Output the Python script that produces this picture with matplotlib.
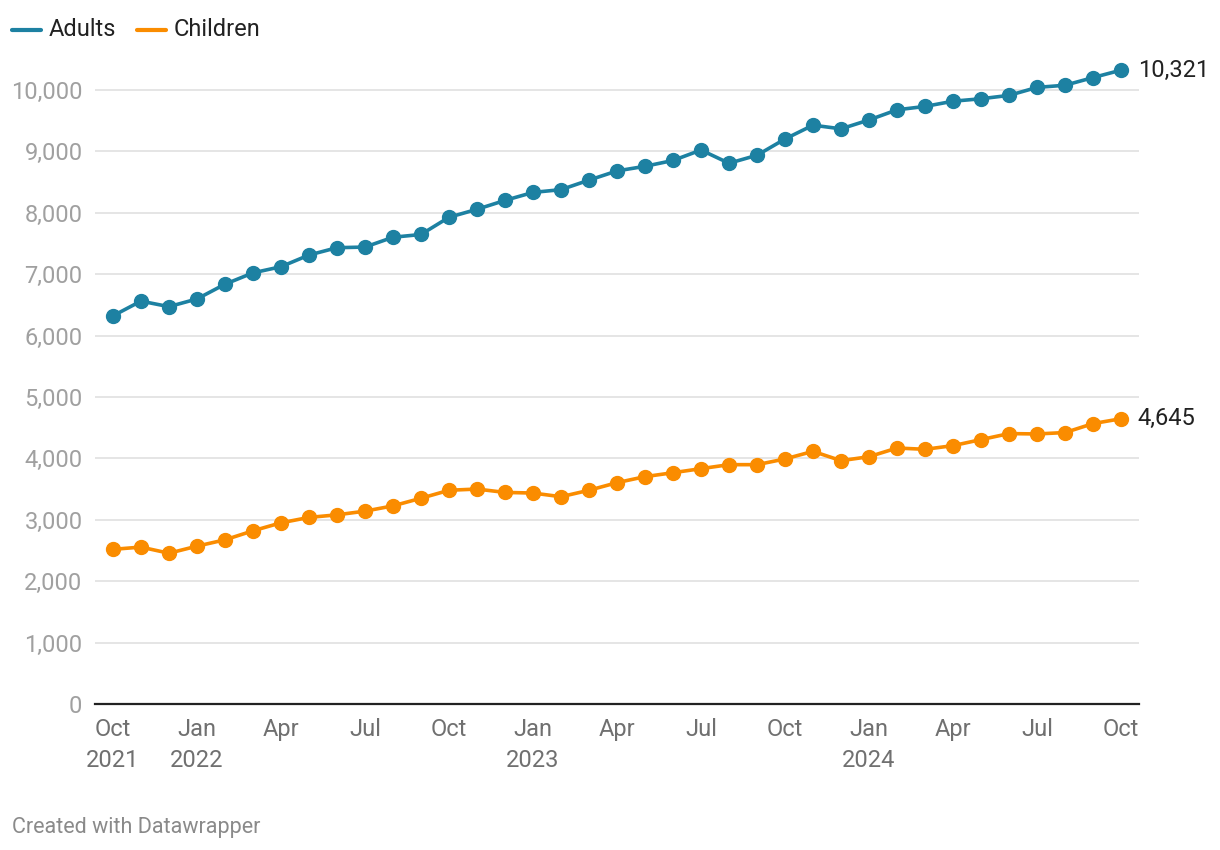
import matplotlib.pyplot as plt
import numpy as np

# monthly values, Oct 2021 .. Oct 2024
months = ["Oct 2021", "Nov 2021", "Dec 2021", "Jan 2022", "Feb 2022", "Mar 2022",
          "Apr 2022", "May 2022", "Jun 2022", "Jul 2022", "Aug 2022", "Sep 2022",
          "Oct 2022", "Nov 2022", "Dec 2022", "Jan 2023", "Feb 2023", "Mar 2023",
          "Apr 2023", "May 2023", "Jun 2023", "Jul 2023", "Aug 2023", "Sep 2023",
          "Oct 2023", "Nov 2023", "Dec 2023", "Jan 2024", "Feb 2024", "Mar 2024",
          "Apr 2024", "May 2024", "Jun 2024", "Jul 2024", "Aug 2024", "Sep 2024",
          "Oct 2024"]

adults = [6320, 6560, 6470, 6595, 6835, 7020, 7120, 7310, 7430, 7440, 7600, 7645,
          7925, 8055, 8200, 8330, 8375, 8530, 8680, 8755, 8850, 9020, 8805, 8935,
          9200, 9425, 9365, 9510, 9675, 9730, 9815, 9855, 9910, 10040, 10075, 10200,
          10321]

children = [2518, 2555, 2455, 2570, 2673, 2820, 2950, 3038, 3080, 3140, 3226, 3350,
            3480, 3500, 3445, 3435, 3375, 3480, 3604, 3702, 3766, 3832, 3897, 3897,
            3990, 4114, 3962, 4027, 4168, 4147, 4207, 4305, 4403, 4397, 4420, 4566,
            4645]

tick_pos = list(range(0, 37, 3))
tick_labels = ["Oct\n2021", "Jan\n2022", "Apr", "Jul", "Oct", "Jan\n2023", "Apr",
               "Jul", "Oct", "Jan\n2024", "Apr", "Jul", "Oct"]
y_ticks = [0, 1000, 2000, 3000, 4000, 5000, 6000, 7000, 8000, 9000, 10000]

blue = "#1d81a2"
orange = "#fa8c00"

plt.rcParams['font.family'] = ['Roboto', 'DejaVu Sans']

W, H = 1220, 850
fig = plt.figure(figsize=(W / 100, H / 100), dpi=100)
left, right, top, bottom = 95, 1139, 53, 704
ax = fig.add_axes([left / W, 1 - bottom / H, (right - left) / W, (bottom - top) / H])

x = np.arange(len(months))
ax.plot(x, adults, color=blue, lw=2.6, marker="o", ms=10, clip_on=False, zorder=3)
ax.plot(x, children, color=orange, lw=2.6, marker="o", ms=10, clip_on=False, zorder=3)

ax.set_xlim(-0.64, 36.64)
ax.set_ylim(0, 10600)

ax.set_yticks(y_ticks)
ax.set_yticklabels([f"{v:,}" for v in y_ticks])
ax.set_xticks(tick_pos)
ax.set_xticklabels(tick_labels, linespacing=1.45, va="top")

ax.grid(axis="y", color="#e3e3e3", lw=1.3)
ax.set_axisbelow(True)
for s in ["top", "right", "left"]:
    ax.spines[s].set_visible(False)
ax.spines["bottom"].set_color("#222222")
ax.spines["bottom"].set_linewidth(1.6)
ax.spines["bottom"].set_zorder(4)

ax.tick_params(axis="y", length=0, pad=9, labelsize=17, labelcolor="#a0a0a0")
ax.tick_params(axis="x", length=0, pad=10, labelsize=17, labelcolor="#707070")

# value labels at the end of each line
ax.annotate(f"{adults[-1]:,}", (x[-1], adults[-1]), xytext=(12, 0),
            textcoords="offset points", va="center", ha="left",
            fontsize=17, color="#222222")
ax.annotate(f"{children[-1]:,}", (x[-1], children[-1]), xytext=(12, 0),
            textcoords="offset points", va="center", ha="left",
            fontsize=17, color="#222222")

# legend drawn by hand at the top left
def legend_item(x0, label, color):
    fig.add_artist(plt.Line2D([x0 / W, (x0 + 29) / W], [1 - 30 / H, 1 - 30 / H],
                              color=color, lw=3, solid_capstyle="round"))
    fig.text((x0 + 37) / W, 1 - 30 / H, label, fontsize=17, color="#222222",
             va="center", ha="left")

legend_item(12, "Adults", blue)
legend_item(137, "Children", orange)

fig.text(12 / W, 1 - 827 / H, "Created with Datawrapper", fontsize=15.5,
         color="#8a8a8a", va="center", ha="left")

fig.savefig("out.png", dpi=100)
